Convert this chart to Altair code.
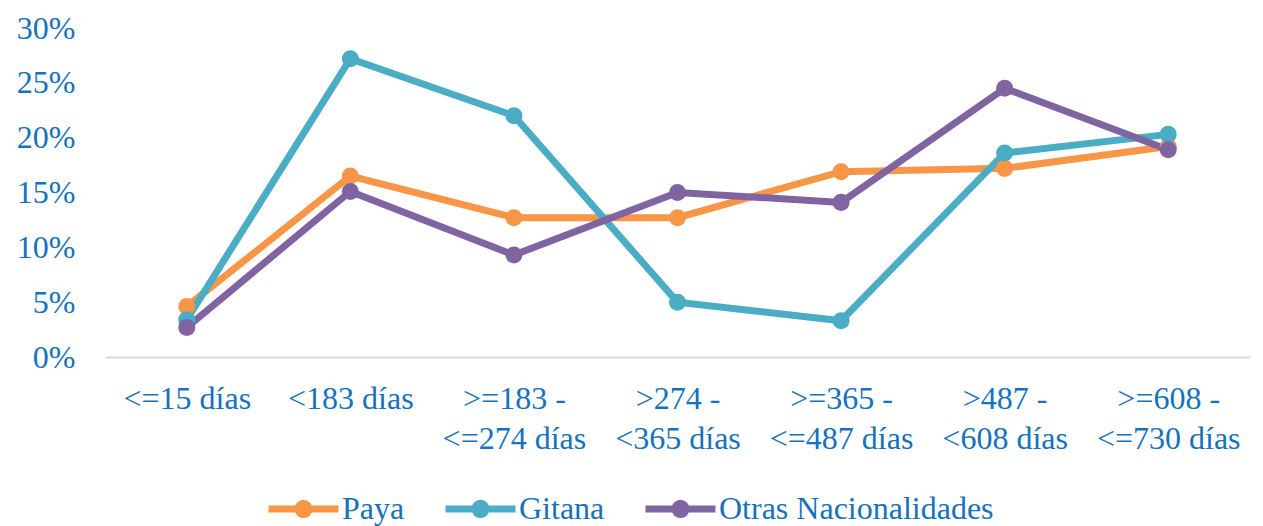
import altair as alt
import pandas as pd

categories = ["<=15 días", "<183 días", ">=183 -|<=274 días", ">274 -|<365 días",
              ">=365 -|<=487 días", ">487 -|<608 días", ">=608 -|<=730 días"]
series = ["Paya", "Gitana", "Otras Nacionalidades"]
paya = [0.046, 0.165, 0.127, 0.127, 0.169, 0.172, 0.192]
gitana = [0.034, 0.272, 0.220, 0.050, 0.033, 0.186, 0.203]
otras = [0.027, 0.151, 0.093, 0.150, 0.141, 0.245, 0.189]
colors = ["#F79646", "#4BACC6", "#8064A2"]
y_ticks = [0, 0.05, 0.10, 0.15, 0.20, 0.25, 0.30]

rows = []
for s, vals in zip(series, [paya, gitana, otras]):
    for c, v in zip(categories, vals):
        rows.append({"cat": c, "serie": s, "val": v})
df = pd.DataFrame(rows)

FONT = "Liberation Serif"
BLUE = "#1572BD"
legend_path = ("M-1,0 L1,0 M-0.16,0 A0.16,0.16 0 1 1 0.16,0 "
               "A0.16,0.16 0 1 1 -0.16,0 Z")

color = alt.Color(
    "serie:N",
    scale=alt.Scale(domain=series, range=colors),
    sort=series,
    legend=alt.Legend(
        title=None, orient="none", direction="horizontal",
        legendX=160, legendY=442,
        symbolType=legend_path, symbolSize=4900, symbolStrokeWidth=7,
        labelFont=FONT, labelFontSize=32, labelColor=BLUE,
        labelOffset=0, columnPadding=26, labelLimit=600,
    ),
)

x = alt.X("cat:N", sort=categories, title=None,
          scale=alt.Scale(type="point", padding=0.5),
          axis=alt.Axis(labelExpr="split(datum.label, '|')", labelAngle=0,
                        labelFont=FONT, labelFontSize=32, labelColor=BLUE,
                        labelLineHeight=40, labelPadding=26, ticks=False,
                        domainColor="#D9D9D9", domainWidth=2, grid=False,
                        labelLimit=400))
y = alt.Y("val:Q", title=None,
          scale=alt.Scale(domain=[0, 0.3], nice=False),
          axis=alt.Axis(values=y_ticks, format=".0%", labelFont=FONT,
                        labelFontSize=32, labelColor=BLUE, ticks=False,
                        domain=False, grid=False, labelPadding=30))

base = alt.Chart(df)
lines = base.mark_line(strokeWidth=7).encode(x=x, y=y, color=color, detail="serie:N")
points = base.mark_point(filled=True, size=290, opacity=1).encode(
    x=x, y=y, color=color, detail="serie:N")

chart = alt.layer(lines, points).properties(
    width=1145, height=329,
    autosize=alt.AutoSizeParams(type="none"),
    padding={"left": 97, "top": 20, "right": 5, "bottom": 169},
).configure(background="white", view=alt.ViewConfig(stroke=None))

chart.save("out.html", embed_options={"renderer": "svg", "actions": False})
